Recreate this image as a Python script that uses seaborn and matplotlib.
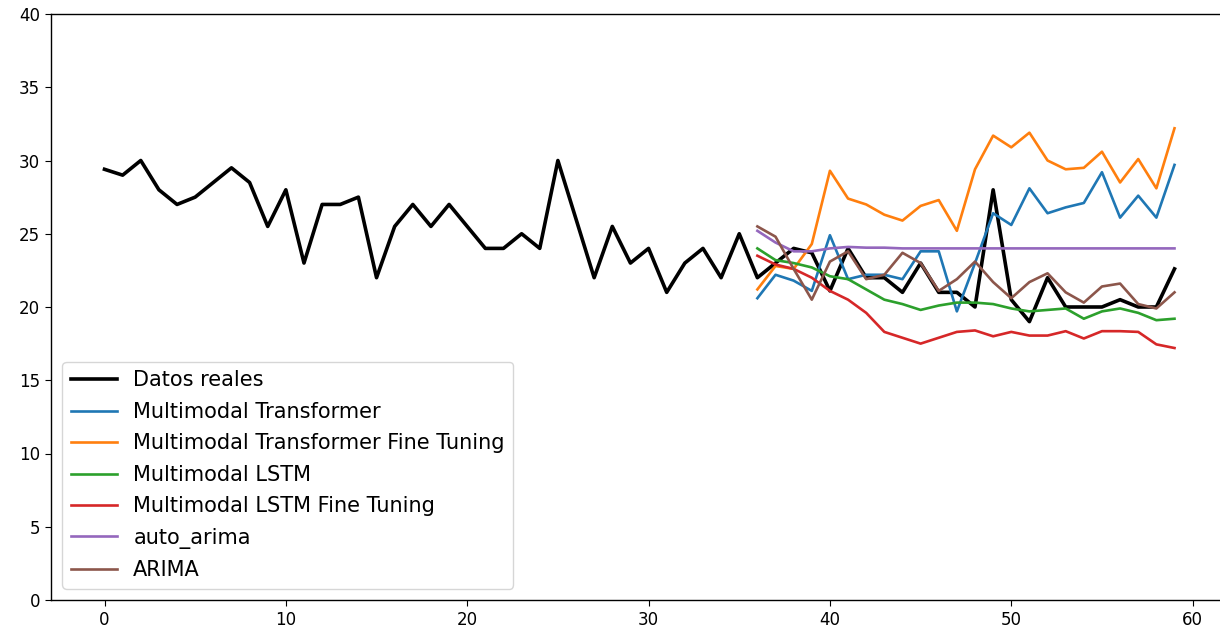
import numpy as np
import pandas as pd
import matplotlib
matplotlib.use("Agg")
import matplotlib.pyplot as plt
import seaborn as sns

# Observed series (steps 0..59)
real_x = list(range(60))
real_y = [29.4, 29.0, 30.0, 28.0, 27.0, 27.5, 28.5, 29.5, 28.5, 25.5,
          28.0, 23.0, 27.0, 27.0, 27.5, 22.0, 25.5, 27.0, 25.5, 27.0,
          25.5, 24.0, 24.0, 25.0, 24.0, 30.0, 26.0, 22.0, 25.5, 23.0,
          24.0, 21.0, 23.0, 24.0, 22.0, 25.0, 22.0, 23.0, 24.0, 23.7,
          21.1, 24.0, 22.0, 22.0, 21.0, 23.0, 21.0, 21.0, 20.0, 28.0,
          20.5, 19.0, 22.0, 20.0, 20.0, 20.0, 20.5, 20.0, 20.0, 22.6]

# Forecast horizon (steps 36..59)
fc_x = list(range(36, 60))
transformer = [20.6, 22.2, 21.8, 21.1, 24.9, 21.9, 22.2, 22.2, 21.9, 23.8,
               23.8, 19.7, 23.0, 26.4, 25.6, 28.1, 26.4, 26.8, 27.1, 29.2,
               26.1, 27.6, 26.1, 29.7]
transformer_ft = [21.2, 22.8, 22.6, 24.3, 29.3, 27.4, 27.0, 26.3, 25.9, 26.9,
                  27.3, 25.2, 29.4, 31.7, 30.9, 31.9, 30.0, 29.4, 29.5, 30.6,
                  28.5, 30.1, 28.1, 32.2]
lstm = [24.0, 23.2, 23.0, 22.7, 22.1, 21.9, 21.2, 20.5, 20.2, 19.8,
        20.1, 20.3, 20.3, 20.2, 19.9, 19.7, 19.8, 19.9, 19.2, 19.7,
        19.9, 19.6, 19.1, 19.2]
lstm_ft = [23.5, 22.9, 22.6, 22.0, 21.1, 20.5, 19.6, 18.3, 17.9, 17.5,
           17.9, 18.3, 18.4, 18.0, 18.3, 18.05, 18.05, 18.35, 17.85, 18.35,
           18.35, 18.3, 17.45, 17.2]
auto_arima = [25.2, 24.4, 23.8, 23.8, 24.0, 24.1, 24.05, 24.05, 24.0, 24.0,
              24.0, 24.0, 24.0, 24.0, 24.0, 24.0, 24.0, 24.0, 24.0, 24.0,
              24.0, 24.0, 24.0, 24.0]
arima = [25.5, 24.8, 22.6, 20.5, 23.1, 23.8, 21.9, 22.2, 23.7, 23.0,
         21.1, 21.9, 23.1, 21.7, 20.6, 21.7, 22.3, 21.0, 20.3, 21.4,
         21.6, 20.2, 19.9, 21.0]

forecasts = [
    ("Multimodal Transformer", transformer, "tab:blue"),
    ("Multimodal Transformer Fine Tuning", transformer_ft, "tab:orange"),
    ("Multimodal LSTM", lstm, "tab:green"),
    ("Multimodal LSTM Fine Tuning", lstm_ft, "tab:red"),
    ("auto_arima", auto_arima, "tab:purple"),
    ("ARIMA", arima, "tab:brown"),
]

plt.rcParams["font.size"] = 12
plt.rcParams["axes.linewidth"] = 1.0
plt.rcParams["xtick.major.size"] = 4.2
plt.rcParams["ytick.major.size"] = 4.2

fig = plt.figure(figsize=(12.2, 6.35), dpi=100)
ax = fig.add_axes([51 / 1220, 35 / 635, 1177 / 1220, 586 / 635])

sns.lineplot(x=real_x, y=real_y, ax=ax, color="black", linewidth=2.6,
             label="Datos reales")
for name, vals, col in forecasts:
    sns.lineplot(x=fc_x, y=vals, ax=ax, color=col, linewidth=1.9, label=name)

ax.set_ylim(0, 40)
ax.set_xlim(-2.95, 61.95)
ax.legend(loc="lower left", fontsize=15, labelspacing=0.55,
          handlelength=2.2, borderaxespad=0.55)

fig.savefig("out.png", dpi=100)
